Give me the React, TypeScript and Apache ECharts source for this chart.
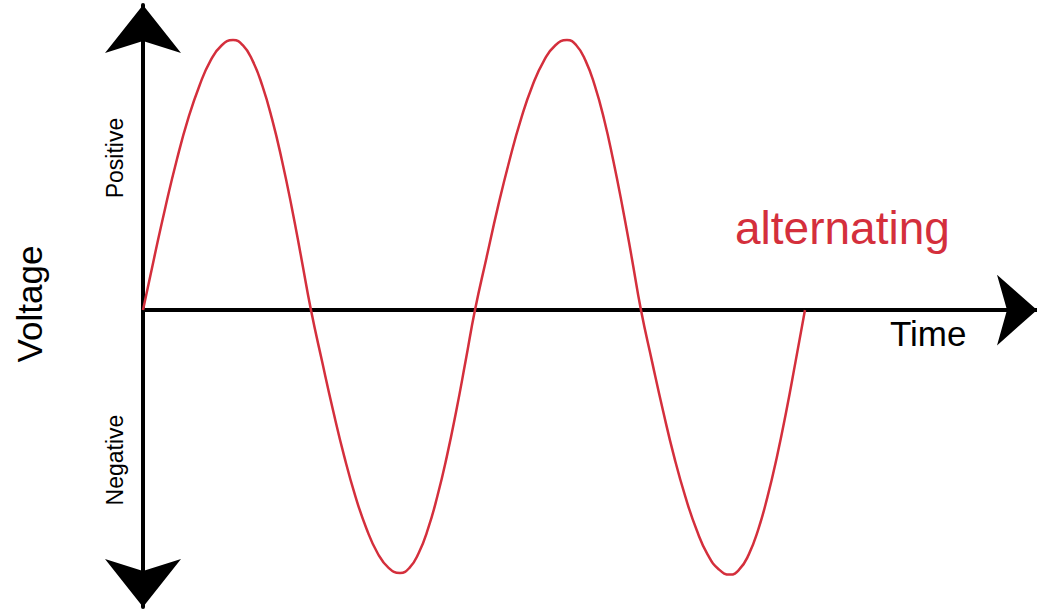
import React, { useEffect, useRef } from "react";
import * as echarts from "echarts";

// Time (ms) and voltage (V) samples of the alternating waveform, one array per half cycle.
const time1 = [0, 0.68, 1.36, 2.04, 2.72, 3.41, 4.08, 4.76, 5.44, 6.03, 6.62, 7.21, 7.8, 8.39, 8.98, 9.56, 10.15];
const volt1 = [0, 19.5, 38.3, 55.6, 70.7, 83.1, 92.4, 98.1, 100, 98.1, 92.4, 83.1, 70.7, 55.6, 38.3, 19.5, 0];

const time2 = [10.82, 11.49, 12.16, 12.83, 13.5, 14.17, 14.84, 15.53, 16.1, 16.66, 17.23, 17.79, 18.36, 18.93, 19.49, 20.06];
const volt2 = [-19, -37.3, -54.2, -68.9, -80.9, -90, -95.5, -97.4, -95.5, -90, -80.9, -68.9, -54.2, -37.3, -19, 0];

const time3 = [20.76, 21.45, 22.15, 22.84, 23.53, 24.23, 24.92, 25.62, 26.18, 26.74, 27.3, 27.86, 28.41, 28.97, 29.53, 30.09];
const volt3 = [19.5, 38.3, 55.6, 70.7, 83.1, 92.4, 98.1, 100, 98.1, 92.4, 83.1, 70.7, 55.6, 38.3, 19.5, 0];

const time4 = [30.76, 31.43, 32.1, 32.78, 33.45, 34.12, 34.8, 35.47, 36.03, 36.6, 37.17, 37.73, 38.3, 38.87, 39.43, 40];
const volt4 = [-19.1, -37.5, -54.5, -69.3, -81.4, -90.6, -96.1, -98, -96.1, -90.6, -81.4, -69.3, -54.5, -37.5, -19.1, 0];

// Axis extents
const timeMax = 54.02;
const voltMax = 113;
const voltMin = -110;

const RED = "#d42f3c";
const FONT = "Liberation Sans, Arial, Helvetica, sans-serif";

export default function App() {
  const ref = useRef<HTMLDivElement>(null);

  useEffect(() => {
    if (!ref.current) return;
    const chart = echarts.init(ref.current, null, { renderer: "svg" });

    const times = [...time1, ...time2, ...time3, ...time4];
    const volts = [...volt1, ...volt2, ...volt3, ...volt4];
    const wave = times.map((t, i) => [t, volts[i]]);

    chart.setOption({
      animation: false,
      backgroundColor: "#ffffff",
      grid: { left: 143, right: 0, top: 5, bottom: 5 },
      xAxis: {
        type: "value",
        min: 0,
        max: timeMax,
        axisLine: {
          show: true,
          onZero: true,
          symbol: ["none", "arrow"],
          symbolSize: [53, 40],
          lineStyle: { color: "#000", width: 4 },
        },
        axisTick: { show: false },
        axisLabel: { show: false },
        splitLine: { show: false },
      },
      yAxis: {
        type: "value",
        min: voltMin,
        max: voltMax,
        axisLine: {
          show: true,
          symbol: ["arrow", "arrow"],
          symbolSize: [57, 48],
          lineStyle: { color: "#000", width: 4 },
        },
        axisTick: { show: false },
        axisLabel: { show: false },
        splitLine: { show: false },
      },
      series: [
        {
          type: "line",
          data: wave,
          smooth: true,
          showSymbol: false,
          lineStyle: { color: RED, width: 2.5 },
          z: 3,
        },
      ],
      graphic: [
        {
          type: "text",
          x: 735,
          y: 228,
          style: {
            text: "alternating",
            fill: RED,
            font: `46px ${FONT}`,
            align: "left",
            verticalAlign: "middle",
          },
        },
        {
          type: "text",
          x: 890,
          y: 333,
          style: {
            text: "Time",
            fill: "#000",
            font: `35px ${FONT}`,
            align: "left",
            verticalAlign: "middle",
          },
        },
        {
          type: "text",
          x: 29,
          y: 304,
          rotation: Math.PI / 2,
          style: {
            text: "Voltage",
            fill: "#000",
            font: `35px ${FONT}`,
            align: "center",
            verticalAlign: "middle",
          },
        },
        {
          type: "text",
          x: 115,
          y: 158,
          rotation: Math.PI / 2,
          style: {
            text: "Positive",
            fill: "#000",
            font: `23px ${FONT}`,
            align: "center",
            verticalAlign: "middle",
          },
        },
        {
          type: "text",
          x: 115,
          y: 460,
          rotation: Math.PI / 2,
          style: {
            text: "Negative",
            fill: "#000",
            font: `23px ${FONT}`,
            align: "center",
            verticalAlign: "middle",
          },
        },
      ],
    });

    return () => chart.dispose();
  }, []);

  return (
    <div
      ref={ref}
      style={{ position: "absolute", left: 0, top: 0, width: 1037, height: 612 }}
    />
  );
}
